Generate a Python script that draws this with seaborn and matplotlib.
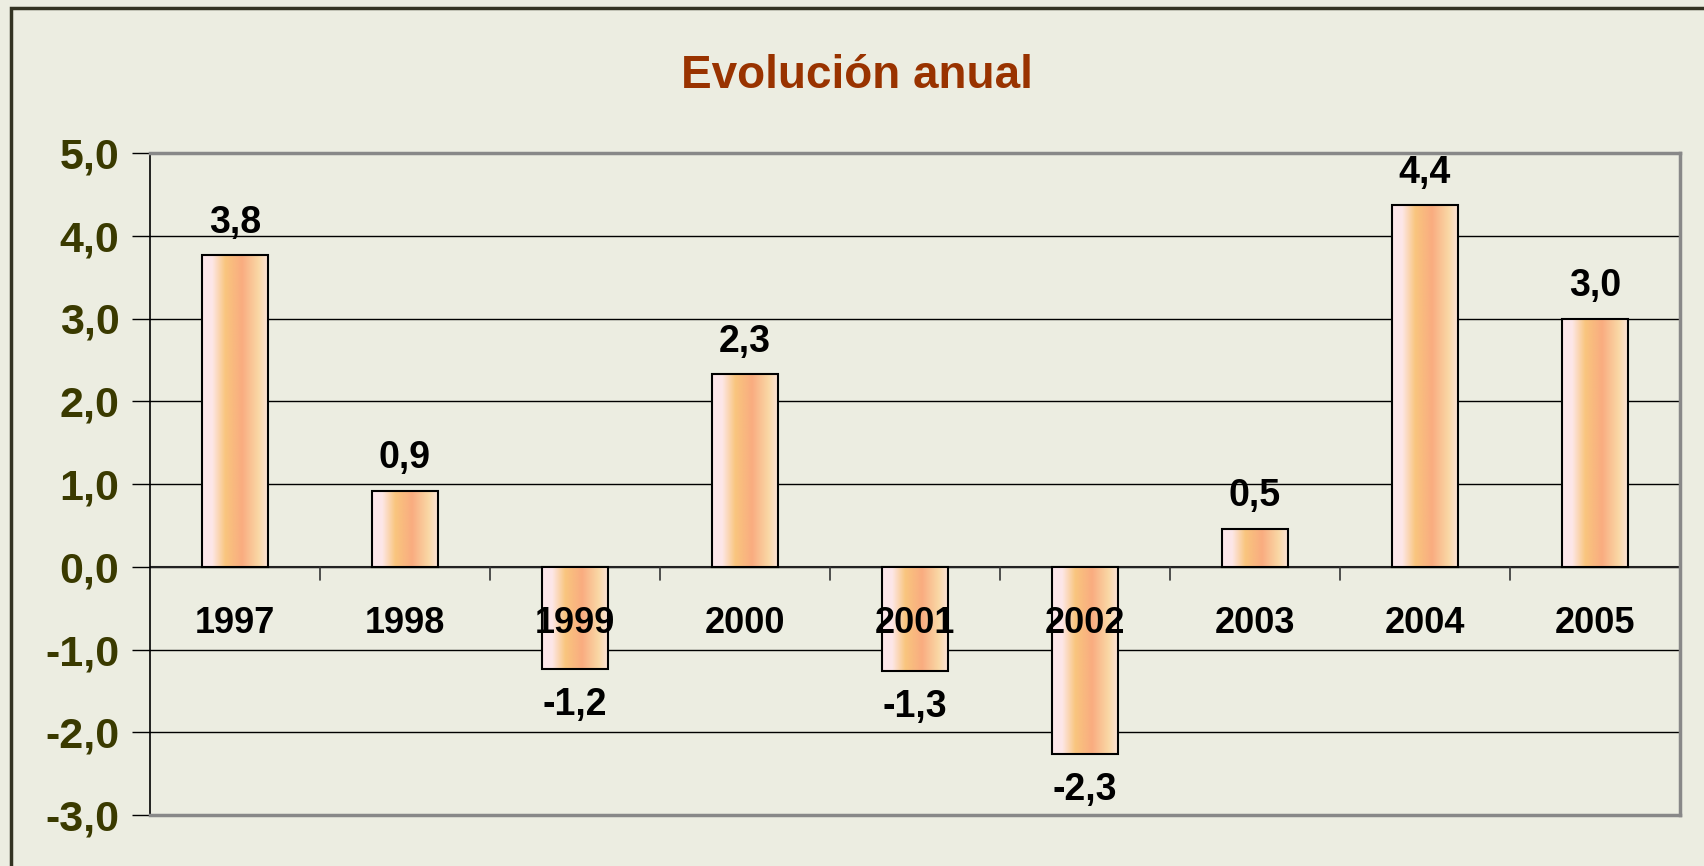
import numpy as np
import pandas as pd
import seaborn as sns
import matplotlib.pyplot as plt
from matplotlib.colors import to_rgb
from matplotlib.patches import Rectangle

# data
years = ['1997', '1998', '1999', '2000', '2001', '2002', '2003', '2004', '2005']
values = [3.77, 0.92, -1.23, 2.33, -1.26, -2.26, 0.46, 4.37, 3.0]
yticks = [-3, -2, -1, 0, 1, 2, 3, 4, 5]

df = pd.DataFrame({'year': years, 'value': values})

bg = '#ECEDE1'
sns.set_style('white')
plt.rcParams['font.family'] = ['Liberation Sans', 'DejaVu Sans']
plt.rcParams['font.weight'] = 'bold'

fig = plt.figure(figsize=(17.04, 8.66), dpi=100, facecolor=bg)
ax = fig.add_axes([150 / 1704, 1 - 815 / 866, 1530 / 1704, 662 / 866])
ax.set_facecolor(bg)

sns.barplot(data=df, x='year', y='value', width=0.39, color='#F9B27E',
            edgecolor='black', linewidth=1.5, ax=ax, zorder=3)

# horizontal gradient inside each bar
stops = ['#FCE6EA', '#FDE7E8', '#F9C57E', '#F9AC80', '#FAD8A6', '#FCE3DC']
pos = [0.0, 0.15, 0.35, 0.6, 0.85, 1.0]
xs = np.linspace(0, 1, 200)
grad = np.array([np.interp(xs, pos, [to_rgb(c)[k] for c in stops]) for k in range(3)]).T
grad = grad[np.newaxis, :, :]
for p in ax.patches:
    x0, y0 = p.get_x(), p.get_y()
    w, h = p.get_width(), p.get_height()
    ax.imshow(grad, extent=(x0, x0 + w, min(y0, y0 + h), max(y0, y0 + h)),
              aspect='auto', zorder=2.5, interpolation='bilinear')
    p.set_facecolor('none')

ax.set_xlim(-0.5, len(years) - 0.5)
ax.set_ylim(-3, 5)
ax.set_yticks(yticks)
ax.set_yticklabels([f'{v:.1f}'.replace('.', ',') for v in yticks],
                   fontsize=31, color='#3A3A00', fontweight='bold')
ax.tick_params(axis='y', length=13, width=1, color='black', pad=9, left=True)
ax.set_xticks([])
ax.set_xlabel('')
ax.set_ylabel('')
ax.yaxis.grid(True, color='black', linewidth=1)
ax.set_axisbelow(True)
ax.axhline(0, color='#222222', linewidth=1.5, zorder=2)

# tick marks between categories on the zero line
for b in np.arange(0.5, len(years) - 1, 1.0):
    ax.plot([b, b], [0, -0.16], color='#333333', linewidth=1.2, zorder=2)

for s in ['top', 'right', 'bottom']:
    ax.spines[s].set_color('#888888')
    ax.spines[s].set_linewidth(2.5)
ax.spines['left'].set_color('black')
ax.spines['left'].set_linewidth(1.2)

# category labels and value labels
for i, (yr, v) in enumerate(zip(years, values)):
    ax.text(i, -0.68, yr, ha='center', va='center', fontsize=26,
            fontweight='bold', color='black', zorder=5)
    lab = f'{v:.1f}'.replace('.', ',')
    ax.text(i, v + (0.39 if v >= 0 else -0.44), lab, ha='center', va='center',
            fontsize=27, fontweight='bold', color='black', zorder=5)

fig.text(0.503, 1 - 76 / 866, 'Evolución anual', ha='center', va='center',
         fontsize=33, fontweight='bold', color='#993300')

# outer chart frame
fig.patches.append(Rectangle((11 / 1704, -0.1), 1.2, 1 - 8 / 866 + 0.1,
                             transform=fig.transFigure, fill=False,
                             edgecolor='#333322', linewidth=2.5))

fig.savefig('out.png', dpi=100, facecolor=bg)
